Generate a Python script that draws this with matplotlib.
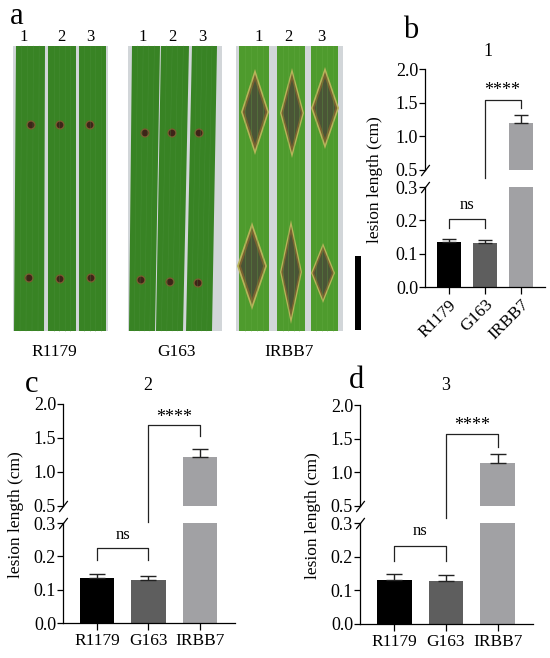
import numpy as np
import matplotlib
matplotlib.use("Agg")
import matplotlib.pyplot as plt
from matplotlib.patches import Rectangle, Polygon, Circle

plt.rcParams['font.family'] = ['Liberation Serif', 'DejaVu Serif']

W, H = 550, 658

# bar chart data (lesion length, cm)
cultivars = ["R1179", "G163", "IRBB7"]
bar_colors = ["#000000", "#5e5e5e", "#a1a1a4"]
mean_1 = [0.135, 0.132, 1.20]
err_1 = [0.010, 0.009, 0.11]
mean_2 = [0.135, 0.129, 1.22]
err_2 = [0.012, 0.012, 0.12]
mean_3 = [0.130, 0.129, 1.14]
err_3 = [0.019, 0.016, 0.13]

# photo layout (pixel units of panel a)
groups_x = [(13, 108), (128, 222), (236, 343)]
leaves = [  # (top left, top right, bottom left, bottom right)
    (16, 45, 14, 44), (48, 76, 48, 76), (79, 106, 79, 106),
    (132, 160, 129, 155), (161, 189, 156, 183), (192, 217, 186, 212),
    (239, 269, 239, 269), (277, 305, 277, 305), (311, 338, 311, 338),
]
spots_x = [31, 60, 90, 145, 172, 199]
spots_y1 = [125, 125, 125, 133, 133, 133]
spots_x2 = [29, 60, 91, 141, 170, 198]
spots_y2 = [278, 279, 278, 280, 282, 283]
lesion_cx = [255, 292, 325, 252, 291, 323]
lesion_cy = [112, 113, 108, 266, 272, 273]
lesion_h = [43, 45, 41, 44, 52, 30]
lesion_w = [14, 12, 14, 15, 11, 12]
num_x = [24, 61, 90, 143, 172, 202, 259, 288, 321]
group_names = ["R1179", "G163", "IRBB7"]
group_name_x = [54, 177, 289]


def box(x0, y0, x1, y1):
    return [x0 / W, 1 - y1 / H, (x1 - x0) / W, (y1 - y0) / H]


fig = plt.figure(figsize=(W / 100, H / 100), dpi=100)

# ---- panel a: leaf photo sketch
ax = fig.add_axes(box(0, 0, 370, 360))
ax.set_xlim(0, 370)
ax.set_ylim(360, 0)
ax.axis("off")
for gx0, gx1 in groups_x:
    ax.add_patch(Rectangle((gx0, 46), gx1 - gx0, 285, color="#d2d6d9", lw=0))
for i, (tl, tr, bl, br) in enumerate(leaves):
    c = "#4e9b2d" if i >= 6 else "#388324"
    vc = "#6aae48" if i >= 6 else "#4f9340"
    ax.add_patch(Polygon([(tl, 46), (tr, 46), (br, 331), (bl, 331)], closed=True, color=c, lw=0))
    for f in np.linspace(0.2, 0.8, 4):
        ax.plot([tl + f * (tr - tl), bl + f * (br - bl)], [46, 331], color=vc, lw=0.4, alpha=0.5)
for x, y in zip(spots_x + spots_x2, spots_y1 + spots_y2):
    ax.add_patch(Circle((x, y), 4.6, color="#7a5a30", lw=0))
    ax.add_patch(Circle((x, y), 3.3, color="#3e2418", lw=0))
for cx, cy, h, w in zip(lesion_cx, lesion_cy, lesion_h, lesion_w):
    for s, col in [(1.0, "#b7b45a"), (0.88, "#7a6230"), (0.74, "#4a5536")]:
        ax.add_patch(Polygon([(cx, cy - h * s), (cx + w * s, cy), (cx, cy + h * s), (cx - w * s, cy)],
                             closed=True, color=col, lw=0))
ax.add_patch(Rectangle((355, 256), 6, 74, color="black", lw=0))
for i, x in enumerate(num_x):
    ax.text(x, 37, str(i % 3 + 1), ha="center", va="center", fontsize=12)
for x, name in zip(group_name_x, group_names):
    ax.text(x, 352, name, ha="center", va="center", fontsize=12.5)
ax.text(17, 17, "a", ha="center", va="center", fontsize=22)


# ---- panels b, c, d: broken-axis bar charts
def bar_panel(x0, x1, ytop, ybreak_top, ybreak_bot, ybot, means, errs,
              ns_h, ns_drop, ns_txt, st_start, st_h, st_drop, st_txt, rotate, capsize):
    pos = np.arange(len(cultivars))
    width = 0.67
    up = fig.add_axes(box(x0, ytop, x1, ybreak_top))
    lo = fig.add_axes(box(x0, ybreak_bot, x1, ybot))
    for a, lim, ticks in [(up, (0.5, 2.0), [0.5, 1.0, 1.5, 2.0]), (lo, (0, 0.3), [0.0, 0.1, 0.2, 0.3])]:
        a.bar(pos, means, width=width, color=bar_colors, zorder=2)
        a.errorbar(pos, means, yerr=[np.zeros(3), errs], fmt="none", ecolor="#222222",
                   elinewidth=1, capsize=capsize, capthick=1, zorder=3)
        a.set_ylim(*lim)
        a.set_xlim(-0.66, 2.68)
        a.set_yticks(ticks)
        a.set_yticklabels(["%.1f" % t for t in ticks])
        a.spines["top"].set_visible(False)
        a.spines["right"].set_visible(False)
        a.spines["left"].set_linewidth(0.9)
        a.tick_params(axis="y", direction="out", length=4, width=0.9, labelsize=13, pad=1)
        a.patch.set_alpha(0)
    up.spines["bottom"].set_visible(False)
    up.set_xticks([])
    lo.spines["bottom"].set_linewidth(0.9)
    lo.set_xticks(pos)
    if rotate:
        lo.set_xticklabels(cultivars, rotation=45, ha="right", rotation_mode="anchor", fontsize=12.5)
    else:
        lo.set_xticklabels(cultivars, fontsize=12.5)
    lo.tick_params(axis="x", direction="out", length=5, width=0.9, pad=2)
    # break marks
    mk = dict(marker=[(-1, -1.3), (1, 1.3)], markersize=8, linestyle="none",
              color="k", mec="k", mew=0.9, clip_on=False)
    up.plot([0], [0], transform=up.transAxes, **mk)
    lo.plot([0], [1], transform=lo.transAxes, **mk)
    # significance brackets
    lo.plot([0, 0, 1, 1], [ns_drop, ns_h, ns_h, ns_drop], color="#222222", lw=0.9, clip_on=False)
    lo.text(0.5, ns_txt, "ns", ha="center", va="center", fontsize=12)
    up.plot([1, 1, 2, 2], [st_start, st_h, st_h, st_drop], color="#222222", lw=0.9, clip_on=False)
    up.text(1.5, st_txt, "****", ha="center", va="center", fontsize=13)
    return up, lo


bar_panel(425, 545, 69, 170, 187, 287, mean_1, err_1,
          0.204, 0.177, 0.245, 0.38, 1.54, 1.42, 1.68, True, 5)
bar_panel(63, 235, 404, 506, 523, 623, mean_2, err_2,
          0.225, 0.189, 0.265, 0.26, 1.69, 1.53, 1.80, False, 6)
bar_panel(360, 533, 405, 506, 523, 624, mean_3, err_3,
          0.231, 0.186, 0.275, 0.32, 1.57, 1.38, 1.70, False, 6)

fig.text(375 / W, 1 - 180 / H, "lesion length (cm)", rotation=90, ha="center", va="center", fontsize=12.5)
fig.text(16 / W, 1 - 515 / H, "lesion length (cm)", rotation=90, ha="center", va="center", fontsize=12.5)
fig.text(313 / W, 1 - 516 / H, "lesion length (cm)", rotation=90, ha="center", va="center", fontsize=12.5)

fig.text(488 / W, 1 - 52 / H, "1", ha="center", va="center", fontsize=13)
fig.text(148 / W, 1 - 385 / H, "2", ha="center", va="center", fontsize=13)
fig.text(446 / W, 1 - 385 / H, "3", ha="center", va="center", fontsize=13)

fig.text(411 / W, 1 - 31 / H, "b", ha="center", va="center", fontsize=22)
fig.text(32 / W, 1 - 385 / H, "c", ha="center", va="center", fontsize=22)
fig.text(357 / W, 1 - 381 / H, "d", ha="center", va="center", fontsize=22)

fig.savefig("out.png", dpi=100)
